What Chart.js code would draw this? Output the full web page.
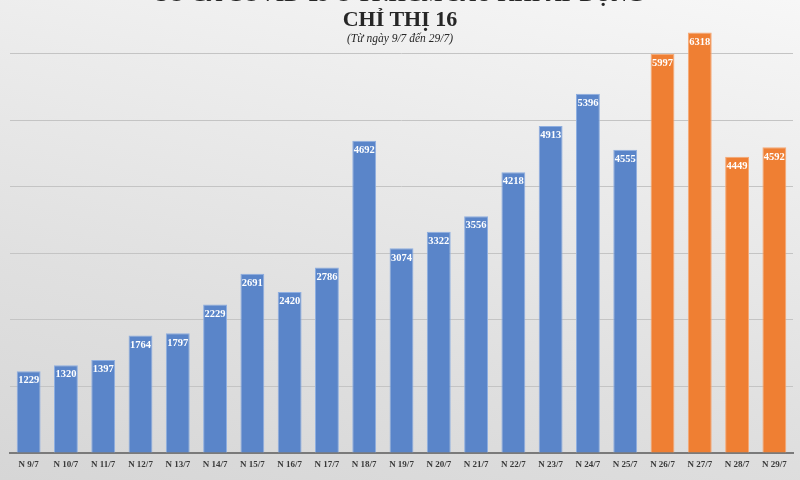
<!DOCTYPE html>
<html>
<head>
<meta charset="utf-8">
<script src="https://cdn.jsdelivr.net/npm/chart.js@4.4.1/dist/chart.umd.min.js"></script>
<style>
  html, body { margin: 0; padding: 0; }
  body {
    width: 800px; height: 480px; overflow: hidden; position: relative;
    background: linear-gradient(192deg, #f7f7f7 0%, #ececec 30%, #e0e0e0 65%, #d6d6d6 100%);
    font-family: "Liberation Serif", "DejaVu Serif", serif;
  }
  .title { position: absolute; left: 0; width: 800px; text-align: center; color: #262626; z-index: 2; }
  #t1 { top: -19px; font-size: 22px; font-weight: bold; }
  #t2 { top: 6px; font-size: 22px; font-weight: bold; }
  #t3 { top: 32px; font-size: 11.5px; font-style: italic; }
  #wrap { position: absolute; left: 0; top: -20px; width: 800px; height: 500px; }
</style>
</head>
<body>
<div class="title" id="t1">SỐ CA COVID-19 Ở TP.HCM SAU KHI ÁP DỤNG</div>
<div class="title" id="t2">CHỈ THỊ 16</div>
<div class="title" id="t3">(Từ ngày 9/7 đến 29/7)</div>
<div id="wrap"><canvas id="chart"></canvas></div>
<script>
// days shown on the x axis
const days = ['N 9/7', 'N 10/7', 'N 11/7', 'N 12/7', 'N 13/7', 'N 14/7', 'N 15/7', 'N 16/7',
    'N 17/7', 'N 18/7', 'N 19/7', 'N 20/7', 'N 21/7', 'N 22/7', 'N 23/7', 'N 24/7',
    'N 25/7', 'N 26/7', 'N 27/7', 'N 28/7', 'N 29/7'];
// new cases per day
const cases = [1229, 1320, 1397, 1764, 1797, 2229, 2691, 2420, 2786, 4692, 3074,
    3322, 3556, 4218, 4913, 5396, 4555, 5997, 6318, 4449, 4592];
// last four days are highlighted in orange
const highlightFrom = 'N 26/7';

const blue = '#5a85c9';
const orange = '#ef7f33';
const hiIndex = days.indexOf(highlightFrom);
const barColors = days.map((d, i) => i >= hiIndex ? orange : blue);
const edgeColors = days.map((d, i) => i >= hiIndex ? '#f6a874' : '#8eaee0');

// draws the value inside the top of each bar
const valueLabels = {
    id: 'valueLabels',
    afterDatasetsDraw(chart) {
        const ctx = chart.ctx;
        const meta = chart.getDatasetMeta(0);
        ctx.save();
        ctx.fillStyle = '#ffffff';
        ctx.font = 'bold 10.5px "Liberation Serif", serif';
        ctx.textAlign = 'center';
        ctx.textBaseline = 'middle';
        meta.data.forEach((bar, i) => {
            ctx.fillText(String(cases[i]), bar.x, bar.y + 9.5);
        });
        ctx.restore();
    }
};

const barData = {
    labels: days,
    datasets: [{
        label: 'Số ca',
        data: cases,
        backgroundColor: barColors,
        borderColor: edgeColors,
        borderWidth: 1,
        barPercentage: 0.64,
        categoryPercentage: 1.0,
    }]
};

const barConfig = {
    type: 'bar',
    data: barData,
    plugins: [valueLabels],
    options: {
        responsive: true,
        maintainAspectRatio: false,
        animation: false,
        layout: { padding: { top: 7, bottom: 7, left: 10, right: 7 } },
        plugins: {
            legend: { display: false },
            tooltip: { enabled: false },
        },
        scales: {
            x: {
                grid: { display: false },
                border: { color: '#7a7a7a', width: 2 },
                ticks: {
                    color: '#3a3a3a',
                    padding: -2,
                    maxRotation: 0,
                    autoSkip: false,
                    font: { family: '"Liberation Serif", serif', size: 9, weight: 'bold' },
                },
                afterFit: axis => { axis.height = 20; },
            },
            y: {
                min: 0,
                max: 7000,
                ticks: { display: false, stepSize: 1000 },
                grid: { color: '#c4c4c4', lineWidth: 1, drawTicks: false },
                border: { display: false },
                afterFit: axis => { axis.width = 0; },
            }
        }
    }
};

const barChart = new Chart(document.getElementById('chart'), barConfig);
</script>
</body>
</html>
